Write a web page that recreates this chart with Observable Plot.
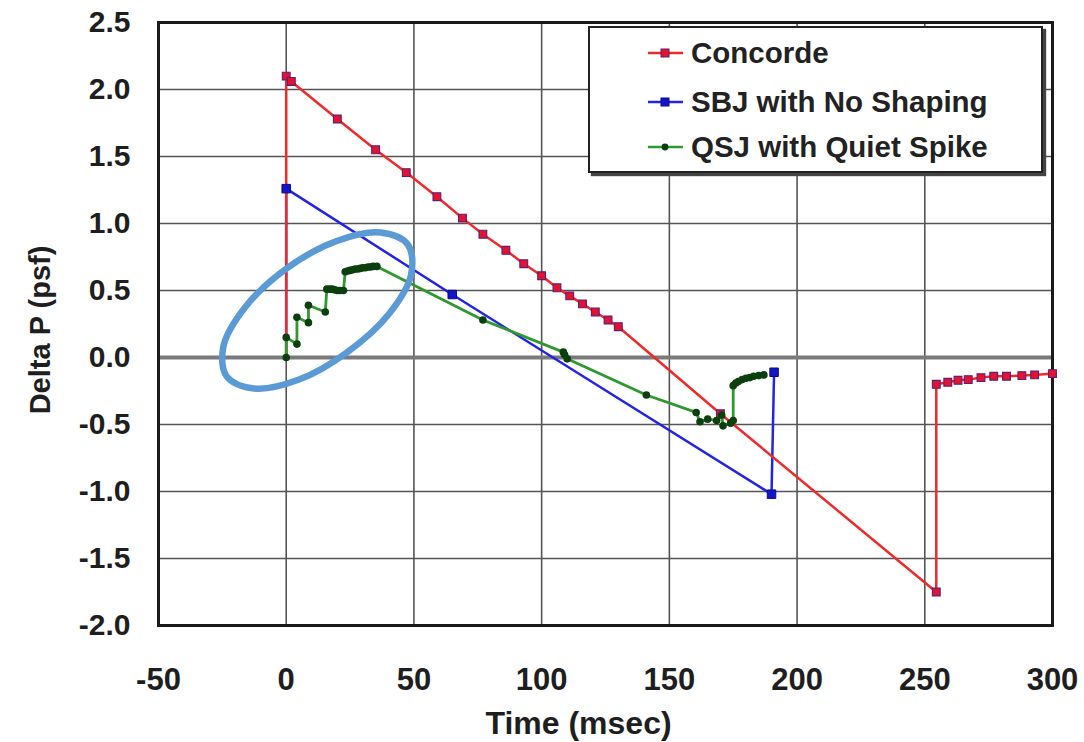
<!DOCTYPE html>
<html><head><meta charset="utf-8">
<script src="https://cdn.jsdelivr.net/npm/d3@7"></script>
<script src="https://cdn.jsdelivr.net/npm/@observablehq/plot@0.6"></script>
<style>
body{margin:0;background:#fff;}
#wrap{position:relative;width:1084px;height:742px;overflow:hidden;}
.legend{position:absolute;left:588px;top:26px;width:451px;height:143px;border:2px solid #222;box-shadow:3px 3px 1px #444;background:#fff;font:bold 29.5px "Liberation Sans",Arial,sans-serif;color:#222;}
.row{position:absolute;left:0;height:30px;width:440px;}
.row svg{position:absolute;left:56px;top:0;}
.row span{position:absolute;left:101px;top:0;line-height:30px;white-space:nowrap;}
</style></head><body><div id="wrap"></div><script>
// ---- data ----
const seriesNames = ["Concorde", "SBJ with No Shaping", "QSJ with Quiet Spike"];

const concordeT = [0, 0, 2, 20, 35, 47, 59, 69, 77, 86, 93, 100, 106, 111, 116, 121, 126, 130, 170, 254.5, 254.5, 259, 263, 267, 272, 277, 282, 288, 293, 300];
const concordeP = [0, 2.10, 2.06, 1.78, 1.55, 1.38, 1.20, 1.04, 0.92, 0.80, 0.70, 0.61, 0.52, 0.46, 0.40, 0.34, 0.28, 0.23, -0.42, -1.75, -0.20, -0.185, -0.17, -0.165, -0.15, -0.14, -0.14, -0.135, -0.13, -0.12];

const sbjT = [0, 0, 65, 190, 191];
const sbjP = [0, 1.26, 0.47, -1.02, -0.11];

const qsjT = [0, 0, 4.2, 4.2, 8.7, 8.7, 15.3, 15.9, 17, 18, 19, 20, 21, 22.4, 23.1, 24, 25, 26, 27, 28, 29, 30, 31, 32, 33, 34, 35.5, 77, 108.5, 109, 110, 141, 160.5, 162, 165, 168.5, 170.5, 171, 174, 175, 175, 176, 177, 178.5, 180, 181.5, 183, 185, 187];
const qsjP = [0, 0.15, 0.10, 0.30, 0.26, 0.39, 0.34, 0.51, 0.51, 0.51, 0.505, 0.50, 0.50, 0.50, 0.64, 0.645, 0.65, 0.655, 0.66, 0.66, 0.665, 0.67, 0.67, 0.675, 0.675, 0.68, 0.68, 0.28, 0.04, 0.02, -0.01, -0.28, -0.41, -0.48, -0.46, -0.47, -0.43, -0.51, -0.49, -0.47, -0.21, -0.19, -0.18, -0.165, -0.155, -0.15, -0.14, -0.135, -0.13];

// highlight ellipse outline (annotation)
const ringT = [47.6, 48.9, 40.2, 23.7, 4.8, -12.6, -23.3, -24.6, -16.0, 0.2, 19.5, 36.9];
const ringP = [0.843, 0.619, 0.325, 0.037, -0.166, -0.231, -0.141, 0.082, 0.377, 0.665, 0.868, 0.933];

const xTicks = [-50, 0, 50, 100, 150, 200, 250, 300];
const yTicks = [-2.0, -1.5, -1.0, -0.5, 0.0, 0.5, 1.0, 1.5, 2.0, 2.5];

const colors = ["#ef2a2a", "#2323e6", "#2f982f"];

const mk = (T, P) => T.map((t, i) => ({t, p: P[i], i}));
const concorde = mk(concordeT, concordeP);
const sbj = mk(sbjT, sbjP);
const qsj = mk(qsjT, qsjP);
const ring = mk(ringT, ringP);

const font = '"Liberation Sans", Arial, sans-serif';

const chart = Plot.plot({
  width: 1084,
  height: 742,
  marginLeft: 158,
  marginRight: 32,
  marginTop: 22,
  marginBottom: 117,
  style: {fontFamily: font, background: "#fff"},
  x: {domain: [-50, 300]},
  y: {domain: [-2.0, 2.5]},
  marks: [
    Plot.gridX(xTicks, {stroke: "#555", strokeOpacity: 1, strokeWidth: 1.6}),
    Plot.gridY(yTicks, {stroke: "#555", strokeOpacity: 1, strokeWidth: 1.6}),
    Plot.ruleY([0], {stroke: "#7a7a7a", strokeWidth: 4}),
    Plot.frame({stroke: "#1a1a1a", strokeWidth: 3}),
    Plot.line(sbj, {x: "t", y: "p", stroke: colors[1], strokeWidth: 2.5}),
    Plot.line(concorde, {x: "t", y: "p", stroke: colors[0], strokeWidth: 2.5}),
    Plot.line(qsj, {x: "t", y: "p", stroke: colors[2], strokeWidth: 2.8}),
    Plot.dot(concorde.filter(d => d.i > 0), {x: "t", y: "p", symbol: "square", r: 4.4, fill: "#e3122e", stroke: "#5a1f7a", strokeWidth: 1.1}),
    Plot.dot(sbj.filter(d => d.i > 0), {x: "t", y: "p", symbol: "square", r: 4.8, fill: "#1414c8", stroke: "#0c0c80", strokeWidth: 1}),
    Plot.dot(qsj, {x: "t", y: "p", r: 3.8, fill: "#0c3f0e"}),
    Plot.line(ring, {x: "t", y: "p", curve: "catmull-rom-closed", stroke: "#5b9bd5", strokeWidth: 6.5}),
    Plot.axisX(xTicks, {tickSize: 0, tickPadding: 42, fontSize: 31, fontWeight: "bold", fill: "#1e1e1e", label: null, tickFormat: d => String(d)}),
    Plot.axisY(yTicks, {tickSize: 0, tickPadding: 28, fontSize: 30, fontWeight: "bold", fill: "#1e1e1e", label: null, tickFormat: d => d.toFixed(1)}),
    Plot.text(["Time (msec)"], {frameAnchor: "bottom", lineAnchor: "middle", dx: -27, dy: 98, fontSize: 32, fontWeight: "bold", fill: "#1e1e1e"}),
    Plot.text(["Delta P (psf)"], {frameAnchor: "left", textAnchor: "middle", rotate: -90, dx: -118, dy: 6, fontSize: 29, fontWeight: "bold", fill: "#1e1e1e"})
  ]
});

const wrap = document.getElementById("wrap");
wrap.appendChild(chart);

// legend
const legend = document.createElement("div");
legend.className = "legend";
const rowTops = [10, 59, 104];
seriesNames.forEach((name, k) => {
  const row = document.createElement("div");
  row.className = "row";
  row.style.top = rowTops[k] + "px";
  const marker = k === 2
    ? `<circle cx="19" cy="15" r="3.4" fill="#0c3f0e"/>`
    : `<rect x="15" y="11" width="8" height="8" fill="${k === 0 ? "#e3122e" : "#1414c8"}" stroke="${k === 0 ? "#5a1f7a" : "#0c0c80"}" stroke-width="1"/>`;
  row.innerHTML = `<svg width="40" height="30"><line x1="2" y1="15" x2="37" y2="15" stroke="${colors[k]}" stroke-width="2.4"/>${marker}</svg><span>${name}</span>`;
  legend.appendChild(row);
});
wrap.appendChild(legend);
</script></body></html>
